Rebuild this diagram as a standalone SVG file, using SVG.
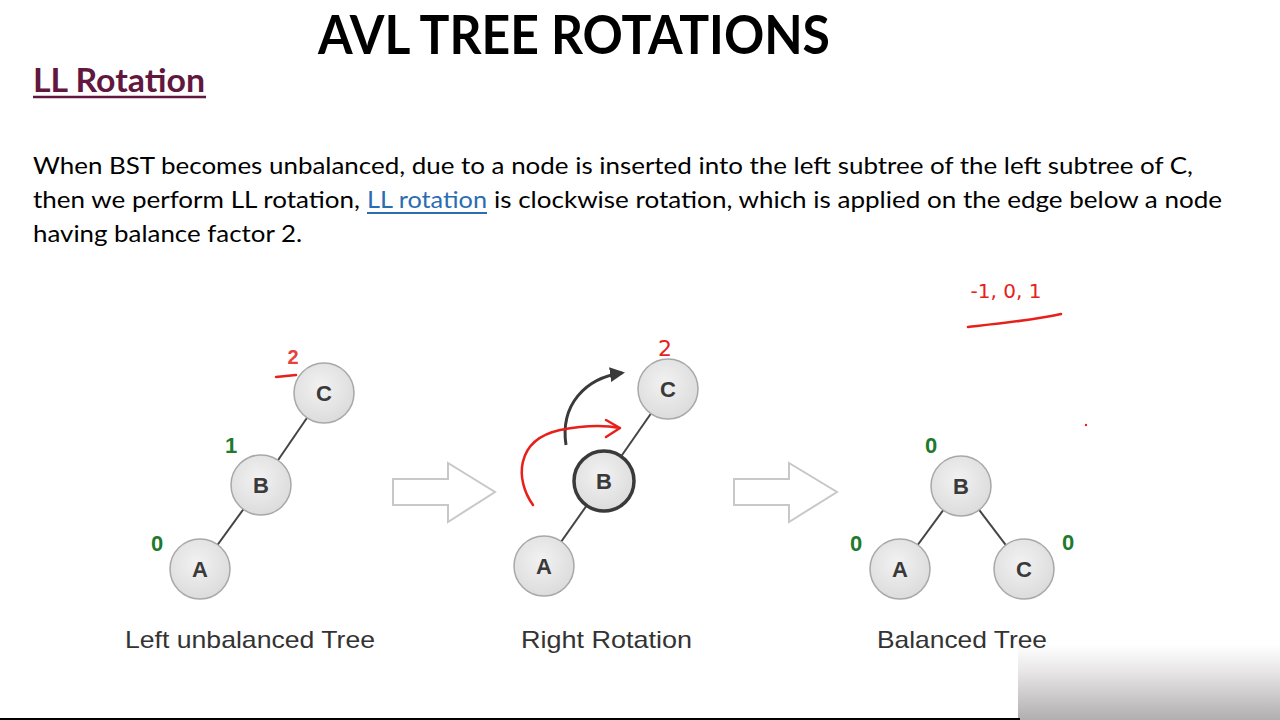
<svg xmlns="http://www.w3.org/2000/svg" width="1280" height="720" viewBox="0 0 1280 720">
<style>
.node circle{fill:url(#ng);stroke:#a8a8a8;stroke-width:1.5}
.node text{font-family:"Liberation Sans",Arial,sans-serif;font-size:22px;font-weight:bold;fill:#3a3a3a;text-anchor:middle}
.edge{stroke:#444;stroke-width:2}
.bf{font-family:"Liberation Sans",Arial,sans-serif;font-size:22px;font-weight:bold;fill:#1e7a2e;text-anchor:middle}
.body{font-family:Lato,"Open Sans",sans-serif;font-size:24px;fill:#000}
.cap{font-family:"Liberation Sans",Arial,sans-serif;font-size:24px;fill:#333}
.red{fill:none;stroke:#e8201a;stroke-width:2.5;stroke-linecap:round;stroke-linejoin:round}
.redtxt{font-family:"DejaVu Sans",sans-serif;fill:#e8201a}
.hollow{fill:#fff;stroke:#c8c8c8;stroke-width:2}
</style>
<defs>
<radialGradient id="ng" cx="0.45" cy="0.4" r="0.6">
<stop offset="0" stop-color="#f2f2f2"/>
<stop offset="1" stop-color="#dcdcdc"/>
</radialGradient>
<linearGradient id="blur" x1="0" y1="0" x2="0" y2="1">
<stop offset="0" stop-color="#ffffff"/>
<stop offset="0.35" stop-color="#e8e6e6"/>
<stop offset="1" stop-color="#b0aeae"/>
</linearGradient>
<marker id="ah" viewBox="0 0 10 10" refX="8" refY="5" markerWidth="5" markerHeight="5" orient="auto">
<path d="M0,0 L10,5 L0,10 z" fill="#3a3a3a"/>
</marker>
</defs>
<rect width="1280" height="720" fill="#fff"/>
<rect x="1018" y="645" width="262" height="75" fill="url(#blur)"/>
<line x1="0" y1="719" x2="1020" y2="719" stroke="#000" stroke-width="2"/>

<text x="574" y="54" font-family="Lato,'Open Sans',sans-serif" font-size="53" font-weight="bold" text-anchor="middle" textLength="512" lengthAdjust="spacingAndGlyphs">AVL TREE ROTATIONS</text>
<text x="33" y="92" font-family="Lato,'Open Sans',sans-serif" font-size="32" font-weight="bold" fill="#62173f" textLength="172" lengthAdjust="spacingAndGlyphs">LL Rotation</text>
<line x1="33" y1="97" x2="206" y2="97" stroke="#62173f" stroke-width="2.5"/>

<text class="body" x="33" y="174" textLength="1160" lengthAdjust="spacingAndGlyphs">When BST becomes unbalanced, due to a node is inserted into the left subtree of the left subtree of C,</text>
<text class="body" x="33" y="208" textLength="327" lengthAdjust="spacingAndGlyphs">then we perform LL rotation,</text>
<text class="body" x="367" y="208" textLength="120" lengthAdjust="spacingAndGlyphs" style="fill:#2a6db0">LL rotation</text>
<line x1="367" y1="213" x2="487" y2="213" stroke="#2a6db0" stroke-width="1.8"/>
<text class="body" x="494" y="208" textLength="728" lengthAdjust="spacingAndGlyphs">is clockwise rotation, which is applied on the edge below a node</text>
<text class="body" x="33" y="242" textLength="269" lengthAdjust="spacingAndGlyphs">having balance factor 2.</text>

<g id="connectors">
<line class="edge" x1="324" y1="393" x2="261" y2="485"/>
<line class="edge" x1="261" y1="485" x2="200" y2="569"/>
<line class="edge" x1="668" y1="389" x2="604" y2="481"/>
<line class="edge" x1="604" y1="481" x2="544" y2="566"/>
<line class="edge" x1="961" y1="486" x2="900" y2="569"/>
<line class="edge" x1="961" y1="486" x2="1024" y2="569"/>
<path d="M566,445 C560,405 585,378 622,373" fill="none" stroke="#3a3a3a" stroke-width="3" marker-end="url(#ah)"/>
<path class="hollow" d="M393,479 H448 V463 L495,492 L448,522 V505 H393 Z"/>
<path class="hollow" d="M734,479 H789 V463 L837,492 L789,522 V505 H734 Z"/>
</g>

<g id="node-left-C" class="node"><circle cx="324" cy="393" r="30"/><text x="324" y="401">C</text></g>
<g id="node-left-B" class="node"><circle cx="261" cy="485" r="30"/><text x="261" y="493">B</text></g>
<g id="node-left-A" class="node"><circle cx="200" cy="569" r="30"/><text x="200" y="577">A</text></g>
<g id="node-mid-C" class="node"><circle cx="668" cy="389" r="30"/><text x="668" y="397">C</text></g>
<g id="node-mid-B" class="node"><circle cx="604" cy="481" r="30" style="stroke:#3a3a3a;stroke-width:3.5"/><text x="604" y="489">B</text></g>
<g id="node-mid-A" class="node"><circle cx="544" cy="566" r="30"/><text x="544" y="574">A</text></g>
<g id="node-right-B" class="node"><circle cx="961" cy="486" r="30"/><text x="961" y="494">B</text></g>
<g id="node-right-A" class="node"><circle cx="900" cy="569" r="30"/><text x="900" y="577">A</text></g>
<g id="node-right-C" class="node"><circle cx="1024" cy="569" r="30"/><text x="1024" y="577">C</text></g>

<text class="bf" x="231" y="453">1</text>
<text class="bf" x="157" y="551">0</text>
<text class="bf" x="931" y="453">0</text>
<text class="bf" x="856" y="551">0</text>
<text class="bf" x="1068" y="550">0</text>
<text x="293" y="364" font-family="'Liberation Sans',Arial,sans-serif" font-size="20" font-weight="bold" fill="#e8403a" text-anchor="middle">2</text>
<path class="red" d="M276,377 L296,375"/>

<text class="redtxt" x="665" y="356" font-size="22" text-anchor="middle">2</text>
<path class="red" d="M533,505 C515,480 515,440 560,430 C585,425 605,425 620,428 M606,420 L620,428 L606,437"/>

<text class="redtxt" x="1006" y="298" font-size="20" text-anchor="middle">-1, 0, 1</text>
<path class="red" d="M968,327 C995,324 1035,320 1061,314"/>
<circle cx="1086" cy="425" r="1.2" fill="#e8201a"/>

<text class="cap" x="125" y="648" textLength="250" lengthAdjust="spacingAndGlyphs">Left unbalanced Tree</text>
<text class="cap" x="521" y="648" textLength="171" lengthAdjust="spacingAndGlyphs">Right Rotation</text>
<text class="cap" x="877" y="648" textLength="170" lengthAdjust="spacingAndGlyphs">Balanced Tree</text>
</svg>
